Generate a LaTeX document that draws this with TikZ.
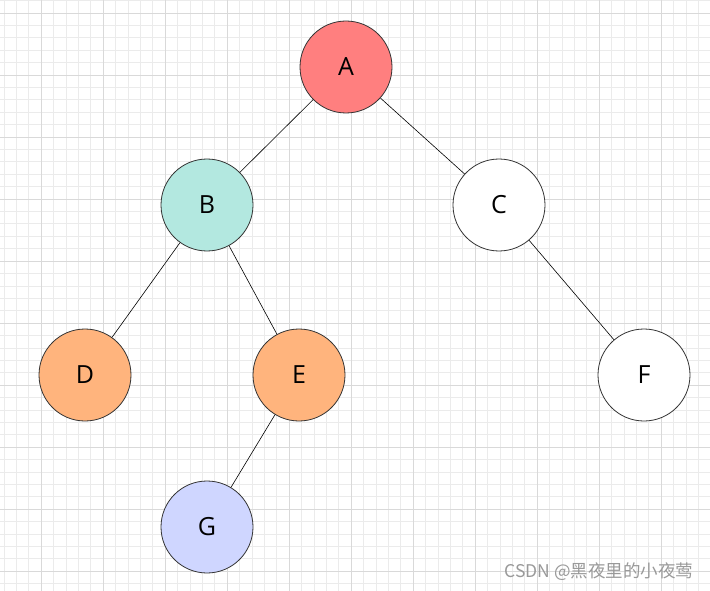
\documentclass[tikz,border=0pt]{standalone}
\usepackage{fontspec}
\setmainfont{Open Sans}
\newfontfamily\cjk{Noto Sans CJK SC}
\definecolor{minorgrid}{HTML}{EBEBEB}
\definecolor{majorgrid}{HTML}{D9D9D9}
\definecolor{cA}{HTML}{FF7F7F}
\definecolor{cB}{HTML}{B3E8E0}
\definecolor{cD}{HTML}{FFB47D}
\definecolor{cG}{HTML}{CFD6FF}
\definecolor{rim}{HTML}{333333}
\tikzset{
  vtx/.style={circle, draw=rim, line width=0.8pt, minimum size=92pt, inner sep=0pt, font=\fontsize{25}{30}\selectfont, text=black},
  link/.style={draw=black, line width=0.6pt}
}
\begin{document}
\begin{tikzpicture}[x=1pt,y=-1pt]
\fill[white] (0,0) rectangle (710,591);
\useasboundingbox (0,0) rectangle (710,591);
\begin{scope}
\clip (0,0) rectangle (710,591);
\foreach \i in {0,...,60} {
  \pgfmathsetmacro{\xx}{-21+12.4*\i}
  \draw[minorgrid, line width=0.6pt] (\xx,0) -- (\xx,591);
  \pgfmathsetmacro{\yy}{-49+12.4*\i}
  \draw[minorgrid, line width=0.6pt] (0,\yy) -- (710,\yy);
}
\foreach \i in {0,...,12} {
  \pgfmathsetmacro{\xx}{-21+62*\i}
  \draw[majorgrid, line width=0.7pt] (\xx,0) -- (\xx,591);
  \pgfmathsetmacro{\yy}{-49+62*\i}
  \draw[majorgrid, line width=0.7pt] (0,\yy) -- (710,\yy);
}
\end{scope}
\node[vtx, fill=cA] (A) at (346,67) {A};
\node[vtx, fill=cB] (B) at (207,205) {B};
\node[vtx, fill=white] (C) at (499,205) {C};
\node[vtx, fill=cD] (D) at (85,375) {D};
\node[vtx, fill=cD] (E) at (299,375) {E};
\node[vtx, fill=white] (F) at (644,375) {F};
\node[vtx, fill=cG] (G) at (207,527) {G};
\draw[link] (A) -- (B);
\draw[link] (A) -- (C);
\draw[link] (B) -- (D);
\draw[link] (B) -- (E);
\draw[link] (C) -- (F);
\draw[link] (E) -- (G);
\node[anchor=east, text=gray!80, font=\cjk\fontsize{17.5}{20}\selectfont] (wm) at (697,572) {CSDN @黑夜里的小夜莺};
\end{tikzpicture}
\end{document}
